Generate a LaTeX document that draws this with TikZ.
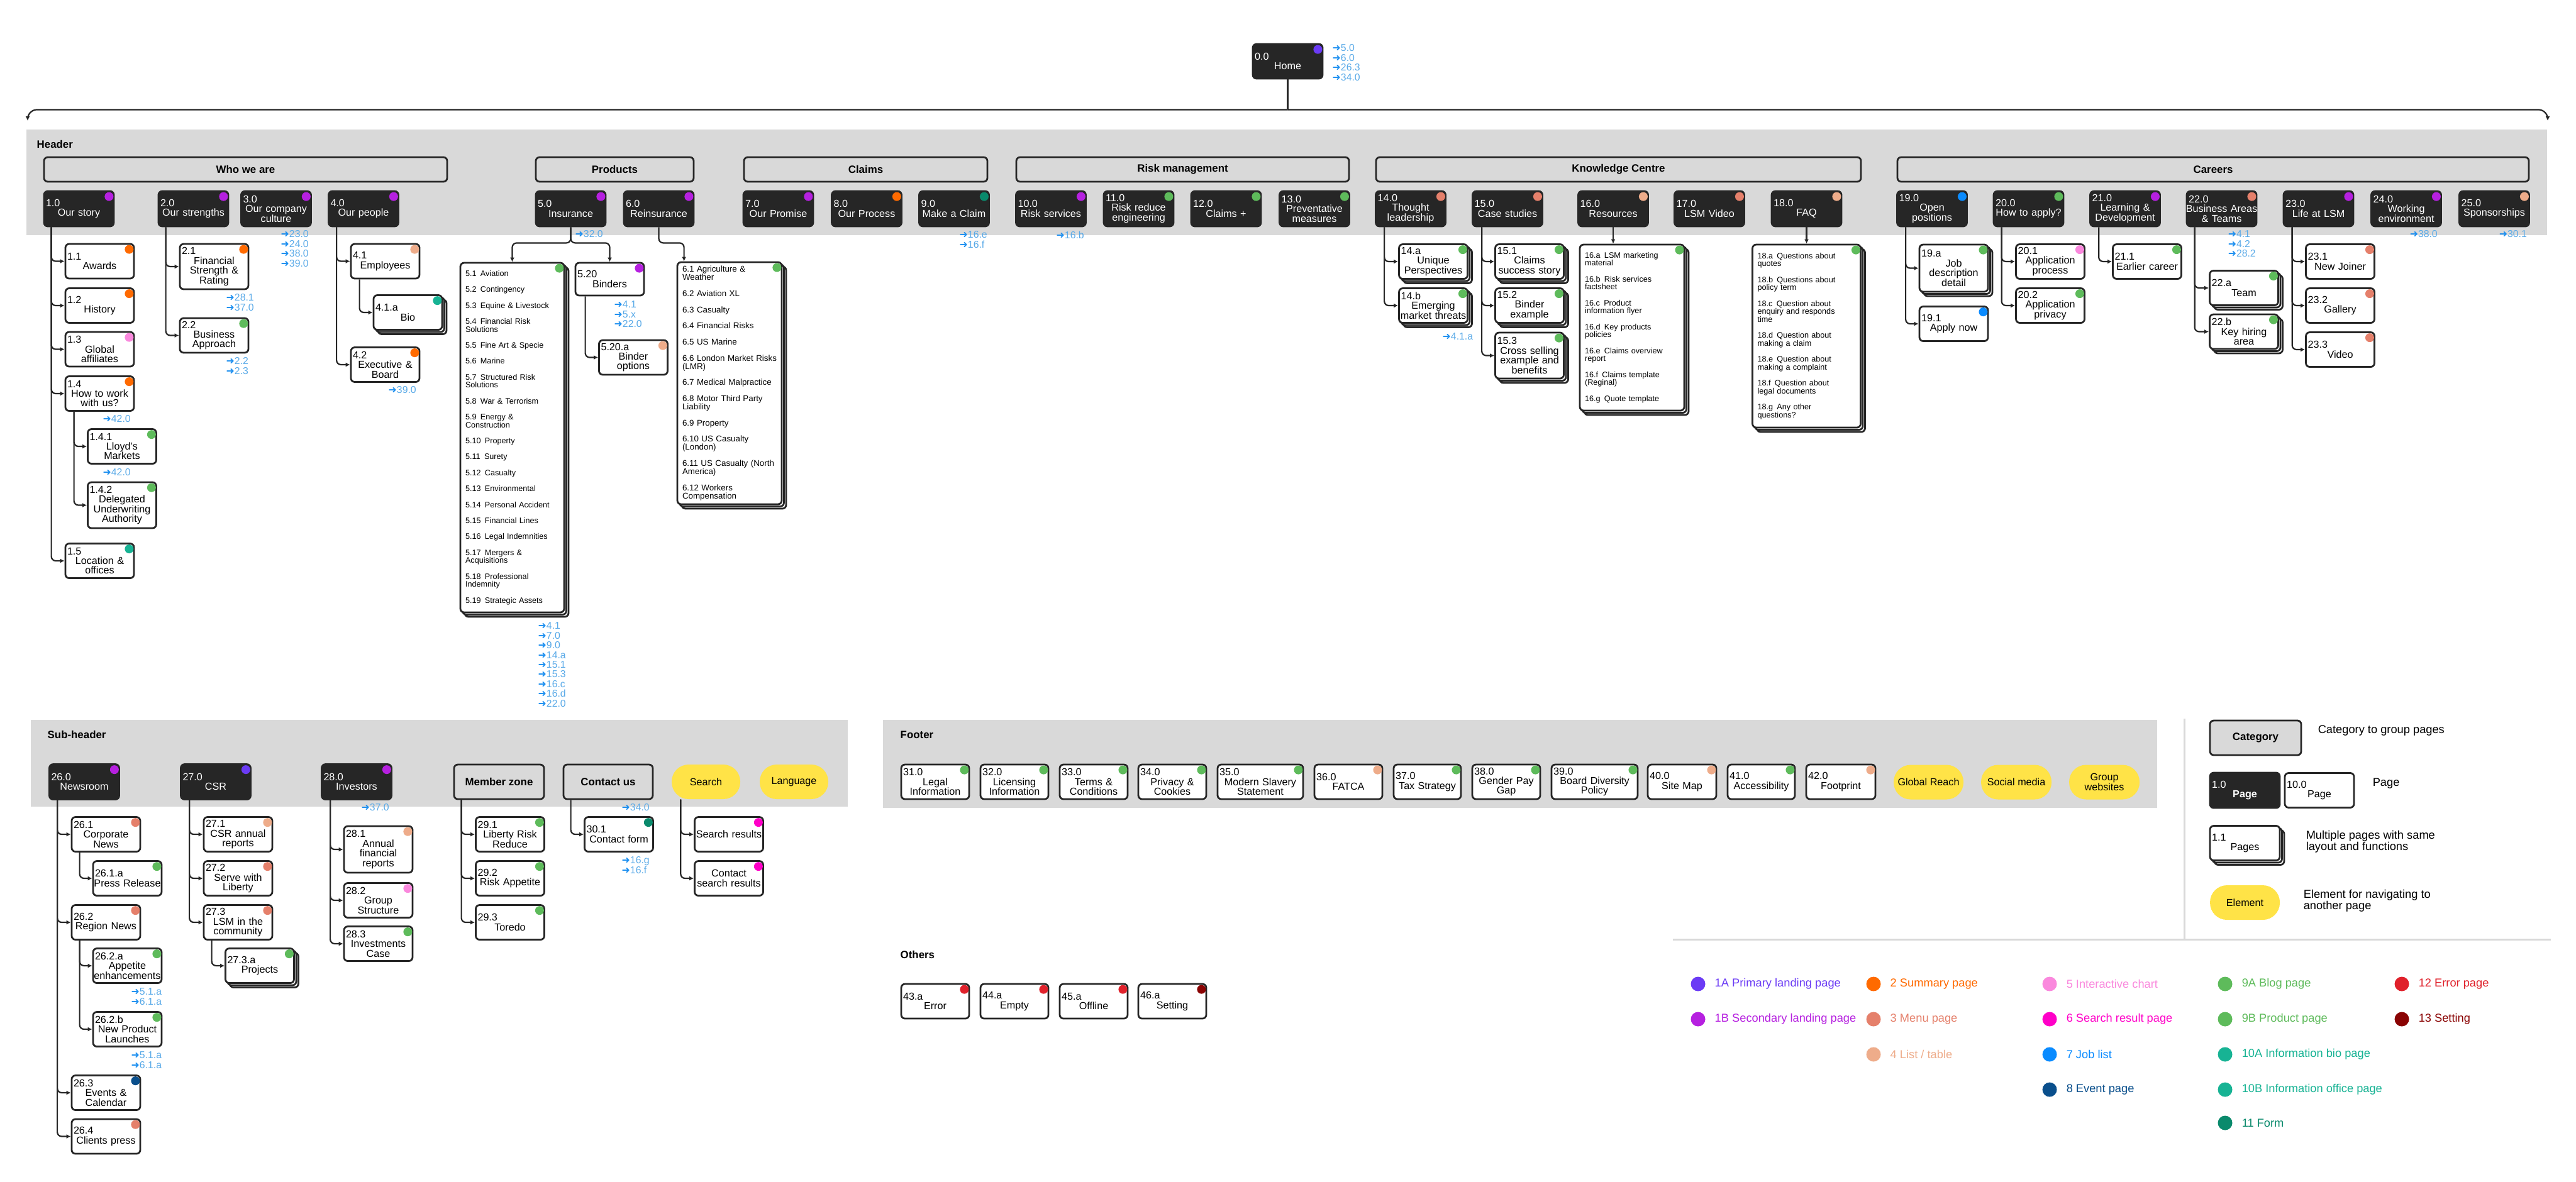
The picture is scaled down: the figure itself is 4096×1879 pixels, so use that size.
\documentclass[tikz,border=0pt]{standalone}
\usepackage{fontspec}
\setmainfont{Liberation Sans}
\newfontfamily\symfont{DejaVu Sans}
\usetikzlibrary{arrows.meta,shadows}

\definecolor{ink}{HTML}{262626}
\definecolor{bandgrey}{HTML}{D9D9D9}
\definecolor{navyellow}{HTML}{FFE347}
\definecolor{linkarrow}{HTML}{1E90F0}
\definecolor{linktext}{HTML}{5AAAE8}
\definecolor{cPrimary}{HTML}{6B3BF5}
\definecolor{cSecondary}{HTML}{B620E0}
\definecolor{cSummary}{HTML}{FF6A00}
\definecolor{cMenu}{HTML}{E5806B}
\definecolor{cList}{HTML}{EEAC8A}
\definecolor{cChart}{HTML}{FA88DD}
\definecolor{cSearch}{HTML}{FF00C8}
\definecolor{cJob}{HTML}{0A8BFF}
\definecolor{cEvent}{HTML}{0A4F8C}
\definecolor{cBlog}{HTML}{5EBB5B}
\definecolor{cInfo}{HTML}{17B394}
\definecolor{cForm}{HTML}{0A8A6C}
\definecolor{cError}{HTML}{E0212B}
\definecolor{cSetting}{HTML}{8A0303}

\newcommand{\fsbox}{\fontsize{4.6}{4.4}\selectfont\lineskiplimit=-4pt\relax}
\newcommand{\fslist}{\fontsize{3.6}{3.6}\selectfont\lineskiplimit=-4pt\relax}
\newcommand{\fswide}{\fontsize{3.8}{3.7}\selectfont\lineskiplimit=-4pt\relax}
\newcommand{\fslink}{\fontsize{4.5}{4.4}\selectfont\lineskiplimit=-4pt\relax}
\newcommand{\fshead}{\fontsize{4.8}{5.2}\selectfont}
\newcommand{\fsnote}{\fontsize{5.2}{5.1}\selectfont\lineskiplimit=-4pt\relax}

% number on the left, title centred below
\newcommand{\pg}[2]{\makebox[\hsize][l]{#1}\\#2}
% one title line that may run over the box edges
\newcommand{\wide}[1]{\makebox[\hsize]{#1}}
\newcommand{\lk}[1]{{\symfont\textcolor{linkarrow}{➜}}#1}
\newcommand{\gap}{\\[1.27mm]}
\newcommand{\tagdot}[2]{\fill[#2] ([xshift=-0.9mm,yshift=-1mm]#1.north east) circle (0.7mm);}

\begin{document}
\begin{tikzpicture}[x=0.1mm, y=-0.1mm,
catbox/.style={draw=ink, line width=0.28mm, rounded corners=0.6mm, fill=bandgrey, font=\fshead\bfseries, minimum height=3.9mm, inner sep=0pt},
darkpage/.style={draw=ink, fill=ink, text=white, line width=0.28mm, rounded corners=0.6mm, align=center, text width=10.5mm, minimum height=5.6mm, inner sep=0.3mm, font=\fsbox},
page/.style={draw=ink, fill=white, line width=0.28mm, rounded corners=0.6mm, align=center, text width=10.3mm, minimum height=5.5mm, inner sep=0.3mm, font=\fsbox},
pages/.style={page, double copy shadow={shadow xshift=0.35mm, shadow yshift=-0.35mm}},
listbox/.style={pages, align=left, text width=14.9mm, inner xsep=0.8mm, font=\fslist},
navpill/.style={fill=navyellow, rounded corners=2.7mm, minimum width=10.9mm, minimum height=5.5mm, align=center, inner sep=0pt, font=\fsbox},
conn/.style={draw=ink, line width=0.22mm, rounded corners=0.7mm, -{Latex[length=0.7mm,width=0.7mm]}},
link/.style={anchor=north west, inner sep=0pt, align=left, text=linktext, font=\fslink},
seclabel/.style={anchor=west, inner sep=0pt, font=\fshead\bfseries},
note/.style={anchor=west, inner sep=0pt, align=left, font=\fsnote}
]
\useasboundingbox (0,0) rectangle (4096,1879);
\fill[white] (0,0) rectangle (4096,1879);

% bands
\fill[bandgrey] (42,206) rectangle (4050,374);
\fill[bandgrey] (49,1145) rectangle (1348,1283);
\fill[bandgrey] (1404,1145) rectangle (3430,1285);

% home
\node[darkpage, minimum height=5.5mm] (home) at (2047.5,97.5) {\pg{0.0}{Home}};
\node[link] (lkhome) at (2118,70) {\lk{5.0}\\\lk{6.0}\\\lk{26.3}\\\lk{34.0}};
\coordinate (hl) at (44,192);
\coordinate (hr) at (4051,192);
\draw[ink, line width=0.22mm] (home.south) -- ++(0,48) coordinate (hbar);
\draw[conn, rounded corners=1.5mm] (hbar) -| (hl);
\draw[conn, rounded corners=1.5mm] (hbar) -| (hr);

% header
\node[seclabel] (lbhead) at (58,229) {Header};
\node[catbox, minimum width=64.1mm] (who) at (390.5,269.5) {Who we are};
\node[catbox, minimum width=25.1mm] (prod) at (977.5,269.5) {Products};
\node[catbox, minimum width=38.7mm] (claims) at (1376.5,269.5) {Claims};
\node[catbox, minimum width=52.9mm] (risk) at (1880.5,269.5) {Risk management};
\node[catbox, minimum width=77.1mm] (know) at (2573.5,269.5) {Knowledge Centre};
\node[catbox, minimum width=100.4mm] (careers) at (3519,269.5) {Careers};

\node[darkpage] (p1) at (125.5,332) {\pg{1.0}{Our story}};
\node[darkpage] (p2) at (307.5,332) {\pg{2.0}{Our strengths}};
\node[darkpage] (p3) at (439,332) {\pg{3.0}{Our company\\culture}};
\node[darkpage] (p4) at (578,332) {\pg{4.0}{Our people}};
\node[darkpage] (p5) at (907.5,332) {\pg{5.0}{Insurance}};
\node[darkpage] (p6) at (1047.5,332) {\pg{6.0}{Reinsurance}};
\node[darkpage] (p7) at (1237.5,332) {\pg{7.0}{Our Promise}};
\node[darkpage] (p8) at (1378,332) {\pg{8.0}{Our Process}};
\node[darkpage] (p9) at (1517,332) {\pg{9.0}{Make a Claim}};
\node[darkpage] (p10) at (1671,332) {\pg{10.0}{Risk services}};
\node[darkpage] (p11) at (1810.5,332) {\pg{11.0}{Risk reduce\\engineering}};
\node[darkpage] (p12) at (1949.5,332) {\pg{12.0}{Claims +}};
\node[darkpage] (p13) at (2090,332) {\pg{13.0}{Preventative\\measures}};
\node[darkpage] (p14) at (2243,332) {\pg{14.0}{Thought\\leadership}};
\node[darkpage] (p15) at (2397,332) {\pg{15.0}{Case studies}};
\node[darkpage] (p16) at (2565,332) {\pg{16.0}{Resources}};
\node[darkpage] (p17) at (2718,332) {\pg{17.0}{LSM Video}};
\node[darkpage] (p18) at (2872.5,332) {\pg{18.0}{FAQ}};
\node[darkpage] (p19) at (3072,332) {\pg{19.0}{Open\\positions}};
\node[darkpage] (p20) at (3225.5,332) {\pg{20.0}{How to apply?}};
\node[darkpage] (p21) at (3379,332) {\pg{21.0}{Learning \&\\Development}};
\node[darkpage] (p22) at (3532.5,332) {\pg{22.0}{\wide{Business Areas}\\\& Teams}};
\node[darkpage] (p23) at (3686.5,332) {\pg{23.0}{Life at LSM}};
\node[darkpage] (p24) at (3826,332) {\pg{24.0}{Working\\environment}};
\node[darkpage] (p25) at (3966,332) {\pg{25.0}{Sponsorships}};

% who we are
\node[page] (c11) at (158.5,415.5) {\pg{1.1}{Awards}};
\node[page] (c12) at (158.5,486) {\pg{1.2}{History}};
\node[page] (c13) at (158.5,555.5) {\pg{1.3}{Global\\affiliates}};
\node[page] (c14) at (158.5,626) {\pg{1.4}{How to work\\with us?}};
\node[page] (c141) at (194,710) {\pg{1.4.1}{Lloyd's\\Markets}};
\node[page, minimum height=7.3mm] (c142) at (194,803.5) {\pg{1.4.2}{Delegated\\Underwriting\\Authority}};
\node[page] (c15) at (158.5,892) {\pg{1.5}{Location \&\\offices}};
\node[page, minimum height=7.2mm] (c21) at (340.5,424) {\pg{2.1}{Financial\\Strength \&\\Rating}};
\node[page] (c22) at (340.5,533.5) {\pg{2.2}{Business\\Approach}};
\node[page] (c41) at (612.5,415.5) {\pg{4.1}{Employees}};
\node[pages] (c41a) at (648.5,497) {\pg{4.1.a}{Bio}};
\node[page] (c42) at (612.5,580) {\pg{4.2}{Executive \&\\Board}};

\node[link] (lk3) at (446,366) {\lk{23.0}\\\lk{24.0}\\\lk{38.0}\\\lk{39.0}};
\node[link] (lk21) at (359,467) {\lk{28.1}\\\lk{37.0}};
\node[link] (lk22) at (359,568) {\lk{2.2}\\\lk{2.3}};
\node[link] (lk14) at (163,660) {\lk{42.0}};
\node[link] (lk141) at (163,745) {\lk{42.0}};
\node[link] (lk42) at (617,614) {\lk{39.0}};

\draw[conn] ([xshift=1.3mm]p1.south west) |- (c11.west);
\draw[conn] ([xshift=1.3mm]p1.south west) |- (c12.west);
\draw[conn] ([xshift=1.3mm]p1.south west) |- (c13.west);
\draw[conn] ([xshift=1.3mm]p1.south west) |- (c14.west);
\draw[conn] ([xshift=1.3mm]p1.south west) |- (c15.west);
\draw[conn] ([xshift=1.5mm]c14.south west) |- (c141.west);
\draw[conn] ([xshift=1.5mm]c14.south west) |- (c142.west);
\draw[conn] ([xshift=1.3mm]p2.south west) |- (c21.west);
\draw[conn] ([xshift=1.3mm]p2.south west) |- (c22.west);
\draw[conn] ([xshift=1.4mm]p4.south west) |- (c41.west);
\draw[conn] ([xshift=1.4mm]p4.south west) |- (c42.west);
\draw[conn] ([xshift=1.5mm]c41.south west) |- (c41a.west);

% products
\node[listbox, minimum height=55.6mm, text width=14.9mm] (l51) at (814.5,696) {5.1\enspace Aviation\gap
5.2\enspace Contingency\gap
5.3\enspace Equine \& Livestock\gap
5.4\enspace Financial Risk\\Solutions\gap
5.5\enspace Fine Art \& Specie\gap
5.6\enspace Marine\gap
5.7\enspace Structured Risk\\Solutions\gap
5.8\enspace War \& Terrorism\gap
5.9\enspace Energy \&\\Construction\gap
5.10\enspace Property\gap
5.11\enspace Surety\gap
5.12\enspace Casualty\gap
5.13\enspace Environmental\gap
5.14\enspace Personal Accident\gap
5.15\enspace Financial Lines\gap
5.16\enspace Legal Indemnities\gap
5.17\enspace Mergers \&\\Acquisitions\gap
5.18\enspace Professional\\Indemnity\gap
5.19\enspace Strategic Assets};
\node[page, minimum height=5.2mm] (c520) at (969.5,444) {\pg{5.20}{Binders}};
\node[page] (c520a) at (1007,568.5) {\pg{5.20.a}{Binder\\options}};
\node[listbox, minimum height=38.5mm, text width=15mm, font=\fswide] (l61) at (1160,609.5) {6.1 Agriculture \&\\Weather\gap
6.2 Aviation XL\gap
6.3 Casualty\gap
6.4 Financial Risks\gap
6.5 US Marine\gap
6.6 London Market Risks\\(LMR)\gap
6.7 Medical Malpractice\gap
6.8 Motor Third Party\\Liability\gap
6.9 Property\gap
6.10 US Casualty\\(London)\gap
6.11 US Casualty (North\\America)\gap
6.12 Workers\\Compensation};

\node[link] (lk5) at (914,366) {\lk{32.0}};
\node[link] (lk520) at (976,478) {\lk{4.1}\\\lk{5.x}\\\lk{22.0}};
\node[link] (lk51) at (855,989) {\lk{4.1}\\\lk{7.0}\\\lk{9.0}\\\lk{14.a}\\\lk{15.1}\\\lk{15.3}\\\lk{16.c}\\\lk{16.d}\\\lk{22.0}};

\draw[conn] (p5.south) -- ++(0,25) -| (l51.north);
\draw[conn] (p5.south) -- ++(0,25) -| (c520.north);
\draw[conn] ([xshift=1.7mm]c520.south west) |- (c520a.west);
\draw[conn] (p6.south) -- ++(0,25) -| ([xshift=1.2mm]l61.north west);

% claims, risk management
\node[link] (lk9) at (1525,367) {\lk{16.e}\\\lk{16.f}};
\node[link] (lk10) at (1679,367) {\lk{16.b}};

% knowledge centre
\node[pages] (c14a) at (2279,416) {\pg{14.a}{Unique\\Perspectives}};
\node[pages] (c14b) at (2279,486) {\pg{14.b}{Emerging\\\wide{market threats}}};
\node[pages] (c151) at (2432,416) {\pg{15.1}{Claims\\\wide{success story}}};
\node[pages] (c152) at (2432,486) {\pg{15.2}{Binder\\example}};
\node[pages, minimum height=7.3mm] (c153) at (2432,565.5) {\pg{15.3}{Cross selling\\example and\\benefits}};
\node[listbox, minimum height=26.4mm, text width=15mm] (l16) at (2595,521) {16.a\enspace LSM marketing\\material\gap
16.b\enspace Risk services\\factsheet\gap
16.c\enspace Product\\information flyer\gap
16.d\enspace Key products\\policies\gap
16.e\enspace Claims overview\\report\gap
16.f\enspace Claims template\\(Reginal)\gap
16.g\enspace Quote template};
\node[listbox, minimum height=29.1mm, text width=15.6mm] (l18) at (2872.5,534.5) {18.a\enspace Questions about\\quotes\gap
18.b\enspace Questions about\\policy term\gap
18.c\enspace Question about\\enquiry and responds\\time\gap
18.d\enspace Question about\\making a claim\gap
18.e\enspace Question about\\making a complaint\gap
18.f\enspace Question about\\legal documents\gap
18.g\enspace Any other\\questions?};
\node[link] (lk14b) at (2293,529) {\lk{4.1.a}};

\draw[conn] ([xshift=1.5mm]p14.south west) |- (c14a.west);
\draw[conn] ([xshift=1.5mm]p14.south west) |- (c14b.west);
\draw[conn] ([xshift=1.6mm]p15.south west) |- (c151.west);
\draw[conn] ([xshift=1.6mm]p15.south west) |- (c152.west);
\draw[conn] ([xshift=1.6mm]p15.south west) |- (c153.west);
\draw[conn] (p16.south) -- (p16.south |- l16.north);
\draw[conn] (p18.south) -- (p18.south |- l18.north);

% careers
\node[pages, minimum height=7.5mm] (c19a) at (3106.5,426.5) {\pg{19.a}{Job\\description\\detail}};
\node[page] (c191) at (3106.5,515) {\pg{19.1}{Apply now}};
\node[page] (c201) at (3260,416) {\pg{20.1}{Application\\process}};
\node[page] (c202) at (3260,486) {\pg{20.2}{Application\\privacy}};
\node[page] (c211) at (3414,416) {\pg{21.1}{Earlier career}};
\node[pages] (c22a) at (3568,458) {\pg{22.a}{Team}};
\node[pages] (c22b) at (3568,527.5) {\pg{22.b}{Key hiring\\area}};
\node[page] (c231) at (3721,416) {\pg{23.1}{New Joiner}};
\node[page] (c232) at (3721,486) {\pg{23.2}{Gallery}};
\node[page] (c233) at (3721,556) {\pg{23.3}{Video}};
\node[link] (lkp22) at (3542,366) {\lk{4.1}\\\lk{4.2}\\\lk{28.2}};
\node[link] (lkp24) at (3831,366) {\lk{38.0}};
\node[link] (lkp25) at (3973,366) {\lk{30.1}};

\draw[conn] ([xshift=1.5mm]p19.south west) |- (c19a.west);
\draw[conn] ([xshift=1.5mm]p19.south west) |- (c191.west);
\draw[conn] ([xshift=1.4mm]p20.south west) |- (c201.west);
\draw[conn] ([xshift=1.4mm]p20.south west) |- (c202.west);
\draw[conn] ([xshift=1.5mm]p21.south west) |- (c211.west);
\draw[conn] ([xshift=1.4mm]p22.south west) |- (c22a.west);
\draw[conn] ([xshift=1.4mm]p22.south west) |- (c22b.west);
\draw[conn] ([xshift=1.5mm]p23.south west) |- (c231.west);
\draw[conn] ([xshift=1.5mm]p23.south west) |- (c232.west);
\draw[conn] ([xshift=1.5mm]p23.south west) |- (c233.west);

% sub-header
\node[seclabel] (lbsub) at (75,1168) {Sub-header};
\node[darkpage] (s26) at (134,1243.5) {\pg{26.0}{Newsroom}};
\node[darkpage] (s27) at (343,1243.5) {\pg{27.0}{CSR}};
\node[darkpage] (s28) at (567,1243.5) {\pg{28.0}{Investors}};
\node[catbox, minimum width=14.3mm, minimum height=5.5mm] (smz) at (793.5,1243.5) {Member zone};
\node[catbox, minimum width=14.2mm, minimum height=5.5mm] (scu) at (967,1243.5) {Contact us};
\node[navpill] (ssearch) at (1122.5,1243.5) {Search};
\node[navpill] (slang) at (1262.5,1243.5) {Language};

\node[page] (c261) at (168.5,1327) {\pg{26.1}{Corporate\\News}};
\node[page] (c261a) at (202.5,1397) {\pg{26.1.a}{\wide{Press Release}}};
\node[page] (c262) at (168.5,1467) {\pg{26.2}{Region News}};
\node[page] (c262a) at (202.5,1536) {\pg{26.2.a}{Appetite\\\wide{enhancements}}};
\node[page] (c262b) at (202.5,1637) {\pg{26.2.b}{New Product\\Launches}};
\node[page] (c263) at (168.5,1738) {\pg{26.3}{Events \&\\Calendar}};
\node[page] (c264) at (168.5,1807.5) {\pg{26.4}{Clients press}};
\node[page] (c271) at (378.5,1327) {\pg{27.1}{CSR annual\\reports}};
\node[page] (c272) at (378.5,1397) {\pg{27.2}{Serve with\\Liberty}};
\node[page] (c273) at (378.5,1467) {\pg{27.3}{LSM in the\\community}};
\node[pages] (c273a) at (413,1536) {\pg{27.3.a}{Projects}};
\node[page, minimum height=7.4mm] (c281) at (601.5,1351) {\pg{28.1}{Annual\\financial\\reports}};
\node[page] (c282) at (601.5,1432) {\pg{28.2}{Group\\Structure}};
\node[page] (c283) at (601.5,1501) {\pg{28.3}{Investments\\Case}};
\node[page] (c291) at (811,1327) {\pg{29.1}{Liberty Risk\\Reduce}};
\node[page] (c292) at (811,1397) {\pg{29.2}{Risk Appetite}};
\node[page] (c293) at (811,1467) {\pg{29.3}{Toredo}};
\node[page] (c301) at (984,1327) {\pg{30.1}{Contact form}};
\node[page] (csr) at (1159,1327) {\wide{Search results}};
\node[page] (ccsr) at (1159,1397) {Contact\\\wide{search results}};

\node[link] (lk262a) at (208,1571) {\lk{5.1.a}\\\lk{6.1.a}};
\node[link] (lk262b) at (208,1672) {\lk{5.1.a}\\\lk{6.1.a}};
\node[link] (lks28) at (574,1278) {\lk{37.0}};
\node[link] (lkscu) at (988,1278) {\lk{34.0}};
\node[link] (lk301) at (988,1362) {\lk{16.g}\\\lk{16.f}};

\draw[conn] ([xshift=1.4mm]s26.south west) |- (c261.west);
\draw[conn] ([xshift=1.4mm]s26.south west) |- (c262.west);
\draw[conn] ([xshift=1.4mm]s26.south west) |- (c263.west);
\draw[conn] ([xshift=1.4mm]s26.south west) |- (c264.west);
\draw[conn] ([xshift=1.4mm]c261.south west) |- (c261a.west);
\draw[conn] ([xshift=1.4mm]c262.south west) |- (c262a.west);
\draw[conn] ([xshift=1.4mm]c262.south west) |- (c262b.west);
\draw[conn] ([xshift=1.5mm]s27.south west) |- (c271.west);
\draw[conn] ([xshift=1.5mm]s27.south west) |- (c272.west);
\draw[conn] ([xshift=1.5mm]s27.south west) |- (c273.west);
\draw[conn] ([xshift=1.4mm]c273.south west) |- (c273a.west);
\draw[conn] ([xshift=1.5mm]s28.south west) |- (c281.west);
\draw[conn] ([xshift=1.5mm]s28.south west) |- (c282.west);
\draw[conn] ([xshift=1.5mm]s28.south west) |- (c283.west);
\draw[conn] ([xshift=1.3mm]smz.south west) |- (c291.west);
\draw[conn] ([xshift=1.3mm]smz.south west) |- (c292.west);
\draw[conn] ([xshift=1.3mm]smz.south west) |- (c293.west);
\draw[conn] ([xshift=1.3mm]scu.south west) |- (c301.west);
\draw[conn] ([xshift=1.5mm]ssearch.south west) |- (csr.west);
\draw[conn] ([xshift=1.5mm]ssearch.south west) |- (ccsr.west);

% footer
\node[seclabel] (lbfoot) at (1431,1169) {Footer};
\node[page, text width=10.2mm] (f31) at (1487,1243.5) {\pg{31.0}{Legal\\Information}};
\node[page, text width=10.2mm] (f32) at (1613,1243.5) {\pg{32.0}{Licensing\\Information}};
\node[page, text width=10.2mm] (f33) at (1739,1243.5) {\pg{33.0}{Terms \&\\Conditions}};
\node[page, text width=10.2mm] (f34) at (1864,1243.5) {\pg{34.0}{Privacy \&\\Cookies}};
\node[page, text width=13mm] (f35) at (2004,1243.5) {\pg{35.0}{Modern Slavery\\Statement}};
\node[page, text width=10.2mm] (f36) at (2144,1243.5) {\pg{36.0}{FATCA}};
\node[page, text width=10.1mm] (f37) at (2269.5,1243.5) {\pg{37.0}{Tax Strategy}};
\node[page, text width=10.2mm] (f38) at (2395,1243.5) {\pg{38.0}{Gender Pay\\Gap}};
\node[page, text width=13.1mm] (f39) at (2535.5,1243.5) {\pg{39.0}{Board Diversity\\Policy}};
\node[page, text width=10.3mm] (f40) at (2674.5,1243.5) {\pg{40.0}{Site Map}};
\node[page, text width=10.1mm] (f41) at (2800.5,1243.5) {\pg{41.0}{Accessibility}};
\node[page, text width=10.4mm] (f42) at (2927,1243.5) {\pg{42.0}{Footprint}};
\node[navpill, minimum width=11.1mm] (fglobal) at (3066.5,1244) {Global Reach};
\node[navpill, minimum width=11.2mm] (fsocial) at (3206,1244) {Social media};
\node[navpill, minimum width=11.2mm] (fgroup) at (3346,1244) {Group\\websites};

% others
\node[seclabel] (lbother) at (1431,1518) {Others};
\node[page, text width=10.2mm] (o43) at (1487,1592.5) {\pg{43.a}{Error}};
\node[page, text width=10.2mm] (o44) at (1613,1592.5) {\pg{44.a}{Empty}};
\node[page, text width=10.2mm] (o45) at (1739,1592.5) {\pg{45.a}{Offline}};
\node[page, text width=10.2mm] (o46) at (1864,1592.5) {\pg{46.a}{Setting}};

% legend
\draw[bandgrey, line width=0.3mm] (3473,1143) -- (3473,1494);
\draw[bandgrey, line width=0.3mm] (2660,1494) -- (4056,1494);
\node[catbox, minimum width=14.5mm, minimum height=5.5mm] (keycat) at (3586.5,1173.5) {Category};
\node[darkpage] (keydark) at (3569.5,1257) {\pg{1.0}{\textbf{Page}}};
\node[page, text width=10.4mm] (keypage) at (3688,1257) {\pg{10.0}{Page}};
\node[pages, text width=10.5mm] (keypages) at (3569.5,1341) {\pg{1.1}{Pages}};
\node[navpill, minimum width=11.1mm] (keyel) at (3569.5,1435.5) {Element};
\node[note] (notecat) at (3685,1162) {Category to group pages};
\node[note] (notepage) at (3772,1246) {Page};
\node[note] (notepages) at (3666,1339) {Multiple pages with same\\layout and functions};
\node[note] (noteel) at (3662,1433) {Element for navigating to\\another page};

% colour key
\fill[cPrimary] (2700,1565) circle (1.15mm);
\node[note, text=cPrimary] (key1a) at (2726,1565) {1A Primary landing page};
\fill[cSecondary] (2700,1621) circle (1.15mm);
\node[note, text=cSecondary] (key1b) at (2726,1621) {1B Secondary landing page};
\fill[cSummary] (2979,1565) circle (1.15mm);
\node[note, text=cSummary] (key2) at (3005,1565) {2 Summary page};
\fill[cMenu] (2979,1621) circle (1.15mm);
\node[note, text=cMenu] (key3) at (3005,1621) {3 Menu page};
\fill[cList] (2979,1677) circle (1.15mm);
\node[note, text=cList] (key4) at (3005,1677) {4 List / table};
\fill[cChart] (3259,1565) circle (1.15mm);
\node[note, text=cChart] (key5) at (3285,1565) {5 Interactive chart};
\fill[cSearch] (3259,1621) circle (1.15mm);
\node[note, text=cSearch] (key6) at (3285,1621) {6 Search result page};
\fill[cJob] (3259,1677) circle (1.15mm);
\node[note, text=cJob] (key7) at (3285,1677) {7 Job list};
\fill[cEvent] (3259,1733) circle (1.15mm);
\node[note, text=cEvent] (key8) at (3285,1733) {8 Event page};
\fill[cBlog] (3538,1565) circle (1.15mm);
\node[note, text=cBlog] (key9a) at (3564,1565) {9A Blog page};
\fill[cBlog] (3538,1621) circle (1.15mm);
\node[note, text=cBlog] (key9b) at (3564,1621) {9B Product page};
\fill[cInfo] (3538,1677) circle (1.15mm);
\node[note, text=cInfo] (key10a) at (3564,1677) {10A Information bio page};
\fill[cInfo] (3538,1733) circle (1.15mm);
\node[note, text=cInfo] (key10b) at (3564,1733) {10B Information office page};
\fill[cForm] (3538,1786) circle (1.15mm);
\node[note, text=cForm] (key11) at (3564,1786) {11 Form};
\fill[cError] (3819,1565) circle (1.15mm);
\node[note, text=cError] (key12) at (3845,1565) {12 Error page};
\fill[cSetting] (3819,1621) circle (1.15mm);
\node[note, text=cSetting] (key13) at (3845,1621) {13 Setting};

% type dots
\tagdot{home}{cPrimary}
\tagdot{p1}{cSecondary} \tagdot{p2}{cSecondary} \tagdot{p3}{cSecondary} \tagdot{p4}{cSecondary}
\tagdot{p5}{cSecondary} \tagdot{p6}{cSecondary} \tagdot{p7}{cSecondary} \tagdot{p8}{cSummary}
\tagdot{p9}{cForm} \tagdot{p10}{cSecondary} \tagdot{p11}{cBlog} \tagdot{p12}{cBlog}
\tagdot{p13}{cBlog} \tagdot{p14}{cMenu} \tagdot{p15}{cMenu} \tagdot{p16}{cList}
\tagdot{p17}{cMenu} \tagdot{p18}{cList} \tagdot{p19}{cJob} \tagdot{p20}{cBlog}
\tagdot{p21}{cSecondary} \tagdot{p22}{cMenu} \tagdot{p23}{cSecondary} \tagdot{p24}{cSecondary}
\tagdot{p25}{cList}
\tagdot{c11}{cSummary} \tagdot{c12}{cSummary} \tagdot{c13}{cChart} \tagdot{c14}{cSummary}
\tagdot{c141}{cBlog} \tagdot{c142}{cBlog} \tagdot{c15}{cInfo} \tagdot{c21}{cSummary}
\tagdot{c22}{cBlog} \tagdot{c41}{cList} \tagdot{c41a}{cInfo} \tagdot{c42}{cSummary}
\tagdot{l51}{cBlog} \tagdot{c520}{cSecondary} \tagdot{c520a}{cList} \tagdot{l61}{cBlog}
\tagdot{c14a}{cBlog} \tagdot{c14b}{cBlog} \tagdot{c151}{cBlog} \tagdot{c152}{cBlog}
\tagdot{c153}{cBlog} \tagdot{l16}{cBlog} \tagdot{l18}{cBlog}
\tagdot{c19a}{cBlog} \tagdot{c191}{cJob} \tagdot{c201}{cChart} \tagdot{c202}{cBlog}
\tagdot{c211}{cBlog} \tagdot{c22a}{cBlog} \tagdot{c22b}{cBlog}
\tagdot{c231}{cMenu} \tagdot{c232}{cMenu} \tagdot{c233}{cMenu}
\tagdot{s26}{cSecondary} \tagdot{s27}{cPrimary} \tagdot{s28}{cSecondary}
\tagdot{c261}{cMenu} \tagdot{c261a}{cBlog} \tagdot{c262}{cMenu} \tagdot{c262a}{cBlog}
\tagdot{c262b}{cBlog} \tagdot{c263}{cEvent} \tagdot{c264}{cMenu}
\tagdot{c271}{cList} \tagdot{c272}{cMenu} \tagdot{c273}{cMenu} \tagdot{c273a}{cBlog}
\tagdot{c281}{cList} \tagdot{c282}{cChart} \tagdot{c283}{cBlog}
\tagdot{c291}{cBlog} \tagdot{c292}{cBlog} \tagdot{c293}{cBlog} \tagdot{c301}{cForm}
\tagdot{csr}{cSearch} \tagdot{ccsr}{cSearch}
\tagdot{f31}{cBlog} \tagdot{f32}{cBlog} \tagdot{f33}{cBlog} \tagdot{f34}{cBlog}
\tagdot{f35}{cBlog} \tagdot{f36}{cList} \tagdot{f37}{cBlog} \tagdot{f38}{cBlog}
\tagdot{f39}{cBlog} \tagdot{f40}{cList} \tagdot{f41}{cBlog} \tagdot{f42}{cList}
\tagdot{o43}{cError} \tagdot{o44}{cError} \tagdot{o45}{cError} \tagdot{o46}{cSetting}
\end{tikzpicture}
\end{document}
